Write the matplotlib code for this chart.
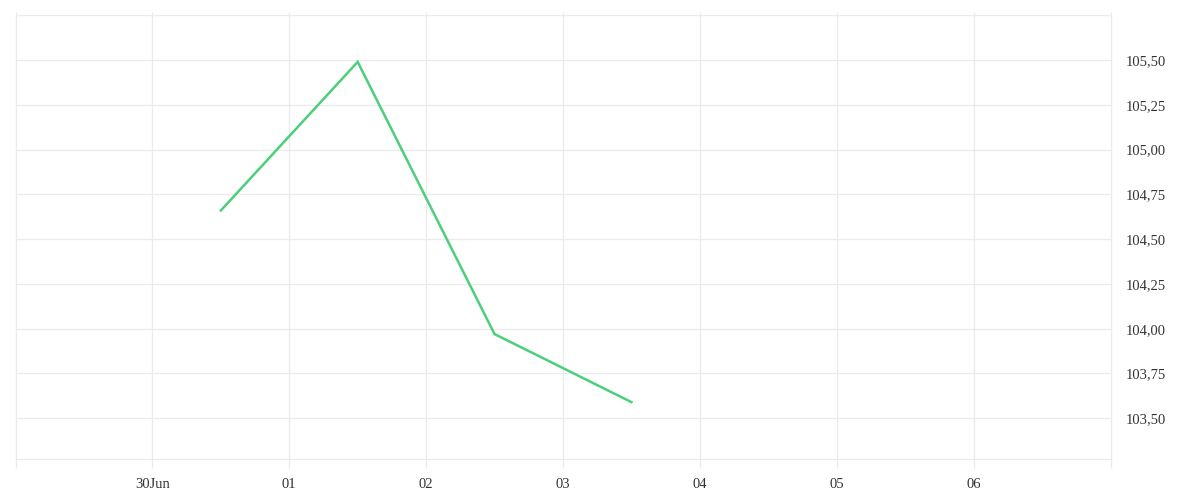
import datetime as dt
import matplotlib
matplotlib.use("Agg")
import matplotlib.pyplot as plt
import matplotlib.dates as mdates

# data
dates = [dt.datetime(2023, 6, 30, 12), dt.datetime(2023, 7, 1, 12),
         dt.datetime(2023, 7, 2, 12), dt.datetime(2023, 7, 3, 12)]
values = [104.66, 105.49, 103.97, 103.59]

tick_days = [dt.datetime(2023, 6, 30) + dt.timedelta(days=i) for i in range(7)]
tick_labels = ["30Jun", "01", "02", "03", "04", "05", "06"]
y_ticks = [103.50, 103.75, 104.00, 104.25, 104.50, 104.75, 105.00, 105.25, 105.50]

grid_color = "#ebebeb"
line_color = "#4ccf7b"

plt.rcParams["font.family"] = ["Liberation Serif", "DejaVu Serif"]

fig = plt.figure(figsize=(12, 5), dpi=100)
ax = fig.add_axes([15.5 / 1200, (500 - 458.7) / 500, 1095 / 1200, (458.7 - 15) / 500])

ax.plot(dates, values, color=line_color, linewidth=1.8, solid_joinstyle="miter", zorder=3)

ax.set_xlim(dt.datetime(2023, 6, 29), dt.datetime(2023, 7, 7))
ax.set_ylim(103.274, 105.752)

# vertical grid lines, sticking a little out of the plot area
ax.vlines(mdates.date2num([dt.datetime(2023, 6, 29)] + tick_days + [dt.datetime(2023, 7, 7)]),
          -0.021, 1.007, transform=ax.get_xaxis_transform(), colors=grid_color,
          linewidth=0.9, clip_on=False, zorder=1)

ax.set_xticks(mdates.date2num(tick_days))
ax.set_xticklabels(tick_labels)
ax.set_yticks(y_ticks + [105.75])
ax.set_yticklabels([("%.2f" % v).replace(".", ",") for v in y_ticks] + [""])
ax.yaxis.tick_right()

ax.grid(axis="y", color=grid_color, linewidth=0.9, zorder=1)
ax.tick_params(axis="x", length=0, pad=14, labelsize=10.5, colors="#333333")
ax.tick_params(axis="y", length=0, pad=11, labelsize=10.5, colors="#333333")

for side in ["left", "right", "top"]:
    ax.spines[side].set_visible(False)
ax.spines["bottom"].set_color(grid_color)
ax.spines["bottom"].set_linewidth(0.9)

fig.savefig("out.png", dpi=100)
